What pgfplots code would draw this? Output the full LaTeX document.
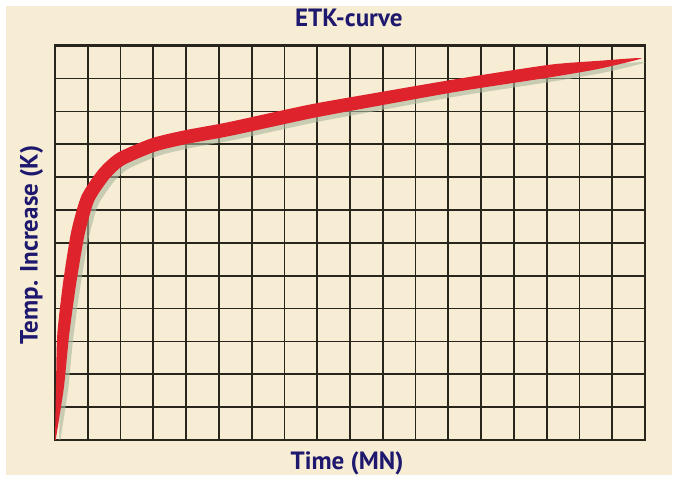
\documentclass[border=0pt]{standalone}
\usepackage{pgfplots}
\pgfplotsset{compat=1.18}
\usepackage{fontspec}
\setmainfont{PT Sans}

\definecolor{bgbeige}{RGB}{247,237,212}
\definecolor{navy}{RGB}{30,24,110}
\definecolor{gridcol}{RGB}{40,38,28}
\definecolor{etkred}{RGB}{222,35,45}
\definecolor{shade}{RGB}{170,182,158}

% outline of the tapered band: upper edge, tip, lower edge back
\pgfplotstableread{
x y
0.00 0.00
0.03 1.61
0.07 3.22
0.252 4.829
0.495 6.344
0.808 7.435
1.339 8.234
1.894 8.731
2.935 9.180
3.959 9.426
5.258 9.666
7.759 10.206
9.865 10.577
12.269 10.988
15.072 11.418
16.583 11.539
17.90 11.62
16.617 11.301
15.128 11.042
12.331 10.612
9.935 10.183
7.841 9.794
5.342 9.254
4.041 9.014
3.065 8.780
2.106 8.369
1.661 7.966
1.192 7.265
0.905 6.256
0.648 4.771
0.43 3.18
0.27 1.59
0.02 0.00
}\etkband

\begin{document}
\begin{tikzpicture}[x=1pt,y=1pt]
  \fill[white] (-55,-41) rectangle (620,440);
  \fill[bgbeige] (-49,-35) rectangle (617,434);
  \begin{axis}[
      at={(0,0)}, anchor=south west,
      scale only axis,
      width=590pt, height=394.3pt,
      xmin=0, xmax=18, ymin=0, ymax=12,
      xtick={0,...,18}, ytick={0,...,12},
      xticklabels={}, yticklabels={},
      major tick length=0pt,
      grid=major,
      grid style={line width=1.8pt, gridcol},
      axis line style={line width=2.4pt, gridcol},
      title={\bfseries ETK-curve},
      title style={at={(axis description cs:0.498,1.055)}, anchor=center,
                   font=\fontsize{25}{30}\selectfont, text=navy},
      xlabel={\bfseries Time (MN)},
      xlabel style={at={(axis description cs:0.495,-0.06)}, anchor=center,
                    font=\fontsize{25}{30}\selectfont, text=navy},
      ylabel={\bfseries Temp. Increase (K)},
      ylabel style={at={(axis description cs:-0.04,0.495)}, anchor=center,
                    font=\fontsize{25}{30}\selectfont, text=navy},
    ]
    \addplot[fill=shade, draw=none, opacity=0.6, smooth, tension=0.4,
             xshift=4pt, yshift=-4pt] table {\etkband} -- cycle;
    \addplot[fill=etkred, draw=none, smooth, tension=0.4] table {\etkband} -- cycle;
  \end{axis}
  \pgfresetboundingbox
  \path[use as bounding box] (-55,-41) rectangle (620,440);
\end{tikzpicture}
\end{document}
